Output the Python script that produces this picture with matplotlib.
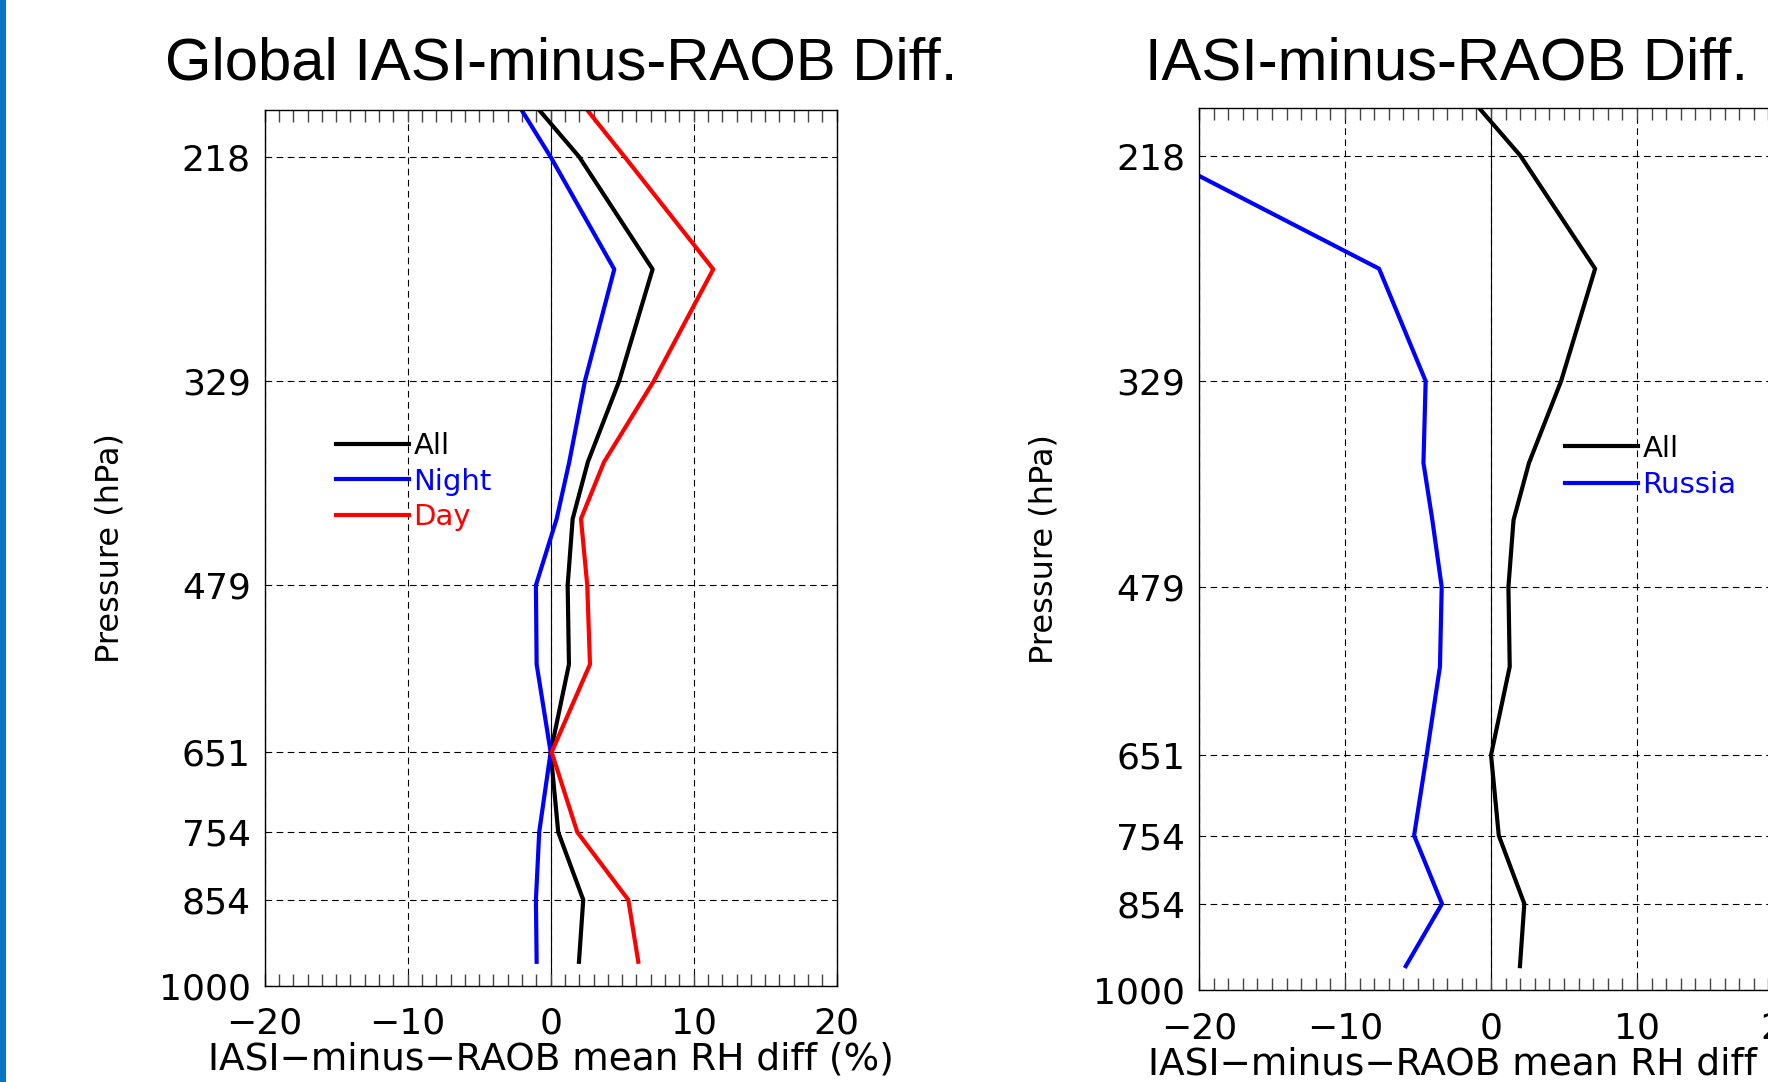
import numpy as np
import matplotlib
matplotlib.use("Agg")
import matplotlib.pyplot as plt
from matplotlib.patches import Rectangle

# pressure levels (hPa) of the profile points, top value is where lines leave the frame
levels = [200, 218, 268, 329, 382, 424, 479, 554, 651, 754, 854, 957]

# IASI-minus-RAOB mean RH differences (%)
rh_all = [-0.8, 2.0, 7.13, 4.8, 2.6, 1.54, 1.19, 1.28, 0.0, 0.53, 2.28, 1.98]
rh_night = [-2.03, 0.0, 4.45, 2.4, 1.3, 0.42, -1.03, -0.98, 0.0, -0.8, -1.03, -0.98]
rh_day = [2.56, 5.18, 11.37, 7.22, 3.73, 2.12, 2.56, 2.75, 0.07, 1.86, 5.43, 6.13]
rh_russia = [np.nan, -22.7, -7.67, -4.48, -4.63, -4.02, -3.38, -3.5, -4.41, -5.27, -3.36, -5.84]

ptick = [218, 329, 479, 651, 754, 854, 1000]
xtick = [-20, -10, 0, 10, 20]

BLUE = "#0000ff"
RED = "#ff0000"

fig = plt.figure(figsize=(17.68, 10.82), dpi=100)
fig.patches.append(Rectangle((0, 0), 0.0035, 1, transform=fig.transFigure,
                             facecolor="#0a74c4", edgecolor="none"))


def setup(ax):
    ax.set_yscale("log")
    ax.set_ylim(1000, 200)
    ax.set_xlim(-20, 20)
    ax.set_yticks(ptick)
    ax.set_yticklabels([str(p) for p in ptick])
    ax.yaxis.set_minor_locator(matplotlib.ticker.NullLocator())
    ax.set_xticks(xtick)
    ax.set_xticklabels([str(v).replace("-", "\u2212") for v in xtick])
    ax.xaxis.set_minor_locator(matplotlib.ticker.MultipleLocator(1))
    ax.tick_params(axis="y", length=0, pad=10, labelsize=26)
    ax.tick_params(axis="x", which="both", direction="in", length=8.6, width=1,
                   color="#444444", top=True, bottom=True, pad=15, labelsize=26)
    ax.grid(True, which="major", color="black", lw=0.8, ls=(0, (6, 4)))
    ax.axvline(0, color="black", lw=0.8, zorder=1)
    for s in ax.spines.values():
        s.set_linewidth(1.0)
    ax.set_xlabel("IASI\u2212minus\u2212RAOB mean RH diff (%)", fontsize=27, labelpad=1)
    ax.set_ylabel("Pressure (hPa)", fontsize=23, labelpad=24)


ax1 = fig.add_axes([0.1497, 0.0890, 0.3235, 0.8093])
setup(ax1)
ax1.plot(rh_all, levels, color="black", lw=3, label="All")
ax1.plot(rh_night, levels, color=BLUE, lw=3, label="Night")
ax1.plot(rh_day, levels, color=RED, lw=3, label="Day")
ax1.legend(loc="upper left", bbox_to_anchor=(0.1247, 0.632), frameon=False,
           labelcolor="linecolor", fontsize=21, handlelength=2.5, handletextpad=0.15,
           labelspacing=0.25, borderpad=0, borderaxespad=0)

ax2 = fig.add_axes([0.6782, 0.0848, 0.3303, 0.8151])
setup(ax2)
ax2.plot(rh_all, levels, color="black", lw=3, label="All")
ax2.plot(rh_russia, levels, color=BLUE, lw=3, label="Russia")
ax2.legend(loc="upper left", bbox_to_anchor=(0.6267, 0.63), frameon=False,
           labelcolor="linecolor", fontsize=21, handlelength=2.5, handletextpad=0.15,
           labelspacing=0.3, borderpad=0, borderaxespad=0)

fig.text(561.5 / 1768, 1 - 79 / 1082, "Global IASI-minus-RAOB Diff.",
         family="Liberation Sans", fontsize=43, ha="center", va="baseline")
fig.text(1447 / 1768, 1 - 79 / 1082, "IASI-minus-RAOB Diff.",
         family="Liberation Sans", fontsize=43, ha="center", va="baseline")

fig.savefig("out.png", dpi=100)
